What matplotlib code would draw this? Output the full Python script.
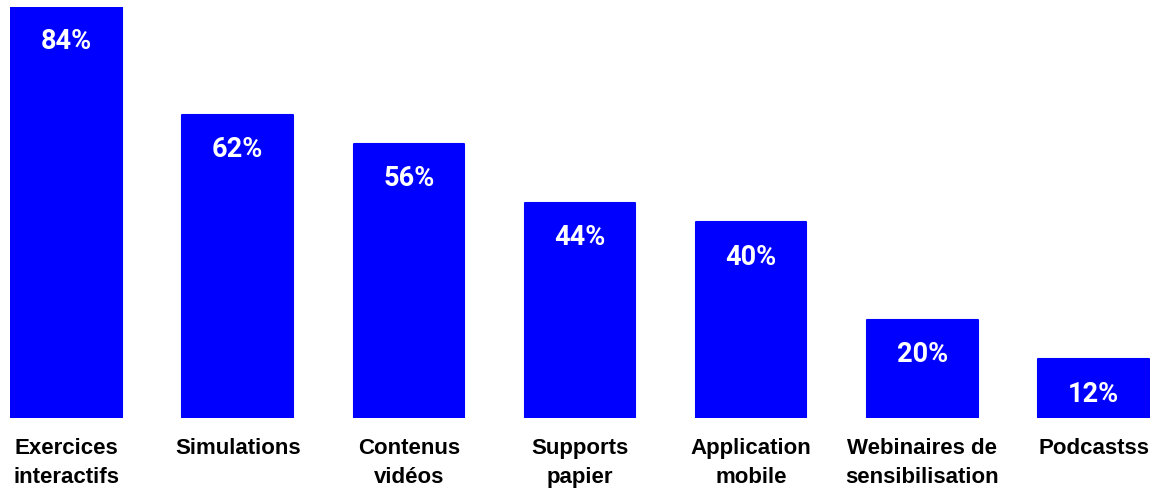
import numpy as np
import matplotlib.pyplot as plt

categories = ["Exercices\ninteractifs", "Simulations", "Contenus\nvidéos",
              "Supports\npapier", "Application\nmobile",
              "Webinaires de\nsensibilisation", "Podcastss"]
values = [84, 62, 56, 44, 40, 20, 12]

fig = plt.figure(figsize=(11.51, 4.92), dpi=100)
ax = fig.add_axes([10 / 1151, 74 / 492, 1140 / 1151, 411 / 492])

x = np.arange(len(values))
bars = ax.bar(x, values, width=0.645, color="#0000ff", edgecolor="#0000ff",
              linewidth=1.5)
for b in bars:
    b.set_joinstyle("round")

for b, v in zip(bars, values):
    ax.annotate(f"{v}%", (b.get_x() + b.get_width() / 2, v),
                xytext=(0, -25), textcoords="offset points",
                ha="center", va="center", color="white",
                fontsize=19.5, fontweight="bold", family="Roboto")

ax.set_xlim(-0.33, len(values) - 1 + 0.33)
ax.set_ylim(0, 84)
ax.set_xticks(x)
ax.set_xticklabels(categories, fontsize=16, fontweight="bold",
                   family="Liberation Sans", linespacing=1.5)
ax.tick_params(axis="x", length=0, pad=14.5)
ax.set_yticks([])
for s in ax.spines.values():
    s.set_visible(False)

fig.savefig("out.png", dpi=100)
